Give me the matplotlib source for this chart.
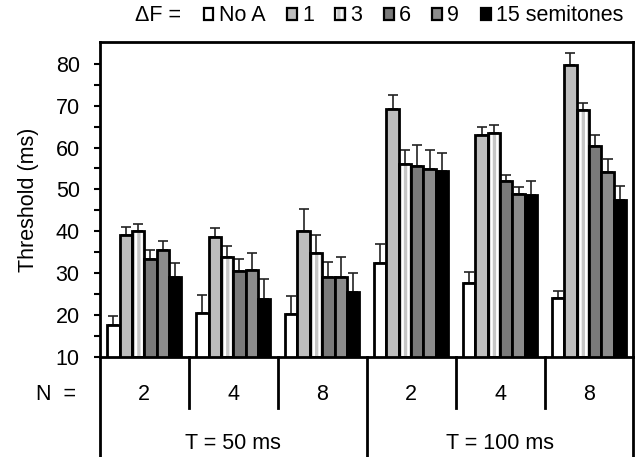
import numpy as np
import matplotlib
matplotlib.use("Agg")
import matplotlib.pyplot as plt
from matplotlib.patches import Patch

plt.rcParams['font.family'] = ['Liberation Sans', 'DejaVu Sans']
plt.rcParams['hatch.linewidth'] = 1.6

# ---- data ----
conditions = ["No A", "1", "3", "6", "9", "15 semitones"]
n_labels = ["2", "4", "8", "2", "4", "8"]
t_labels = ["T = 50 ms", "T = 100 ms"]

# rows: condition, cols: (T50 N2, T50 N4, T50 N8, T100 N2, T100 N4, T100 N8)
means = np.array([
    [17.6, 20.6, 20.2, 32.4, 27.6, 24.0],   # No A
    [39.0, 38.6, 40.1, 69.2, 63.1, 79.8],   # 1
    [40.0, 33.8, 34.9, 56.0, 63.4, 69.0],   # 3
    [33.3, 30.4, 29.2, 55.6, 51.9, 60.3],   # 6
    [35.5, 30.7, 29.1, 54.8, 49.0, 54.1],   # 9
    [29.1, 23.8, 25.4, 54.5, 48.7, 47.4],   # 15
])
errs = np.array([
    [2.2, 4.2, 4.4, 4.6, 2.6, 1.8],
    [2.0, 2.2, 5.2, 3.4, 1.9, 2.8],
    [1.8, 2.6, 4.1, 3.3, 2.0, 1.7],
    [2.3, 3.0, 3.4, 4.9, 1.5, 2.7],
    [2.2, 4.1, 4.8, 4.5, 1.6, 3.2],
    [3.4, 4.7, 4.7, 4.1, 3.4, 3.4],
])

faces = ["white", "#bdbdbd", "#c6c6c6", "#7a7a7a", "#8c8c8c", "black"]
hatches = [None, None, "|||", None, None, None]

fig = plt.figure(figsize=(6.36, 4.57), dpi=100)
ax = fig.add_axes([0.157, 0.219, 0.839, 0.689])

groups = np.arange(len(n_labels))
width = 0.139
offsets = (np.arange(len(conditions)) - (len(conditions) - 1) / 2) * width

handles = []
for i, cond in enumerate(conditions):
    x = groups + offsets[i]
    if hatches[i]:
        ax.bar(x, means[i] - 10, width, bottom=10, color=faces[i],
               edgecolor="white", hatch=hatches[i], linewidth=0, zorder=2)
        ax.bar(x, means[i] - 10, width, bottom=10, fill=False,
               edgecolor="black", linewidth=2, zorder=3)
        h = (Patch(facecolor=faces[i], edgecolor="white", hatch=hatches[i], linewidth=0),
             Patch(fill=False, edgecolor="black", linewidth=1.6))
    else:
        ax.bar(x, means[i] - 10, width, bottom=10, color=faces[i],
               edgecolor="black", linewidth=2, zorder=3)
        h = Patch(facecolor=faces[i], edgecolor="black", linewidth=1.6)
    ax.errorbar(x, means[i], yerr=[np.zeros(len(x)), errs[i]], fmt="none",
                ecolor="#222222", elinewidth=1.2, capsize=3.5, capthick=1.2, zorder=1)
    handles.append(h)

ax.set_xlim(-0.5, 5.5)
ax.set_ylim(10, 85.2)
ax.set_yticks(np.arange(10, 81, 10))
ax.set_yticks(np.arange(15, 81, 10), minor=True)
ax.set_xticks([])
ax.tick_params(axis="y", which="both", direction="out", length=4.5, width=1.5,
               labelsize=15.5, pad=10)
for s in ax.spines.values():
    s.set_linewidth(2)
ax.set_ylabel("Threshold (ms)", fontsize=15.5, labelpad=12)

# table below the axis
trans = ax.get_xaxis_transform()
for xv in [0.5, 1.5, 3.5, 4.5]:
    ax.plot([xv, xv], [0, -0.162], transform=trans, color="black", lw=2, clip_on=False)
for xv in [-0.5, 2.5, 5.5]:
    ax.plot([xv, xv], [0, -0.35], transform=trans, color="black", lw=2, clip_on=False)
for g, lab in zip(groups, n_labels):
    ax.text(g, -0.118, lab, transform=trans, ha="center", va="center", fontsize=15.5)
ax.text(-0.045, -0.118, "N  =", transform=ax.transAxes, ha="right", va="center", fontsize=15.5)
ax.text(1, -0.275, t_labels[0], transform=trans, ha="center", va="center", fontsize=15.5)
ax.text(4, -0.275, t_labels[1], transform=trans, ha="center", va="center", fontsize=15.5)

# legend on top
fig.text(0.213, 0.965, "\u0394F =", ha="left", va="center", fontsize=15.5)
fig.legend(handles, conditions, loc="center right", bbox_to_anchor=(0.997, 0.965),
           ncol=6, frameon=False, fontsize=15.5, handlelength=0.45, handleheight=0.45,
           handletextpad=0.25, columnspacing=1.0, borderpad=0)

fig.savefig("out.png", dpi=100)
